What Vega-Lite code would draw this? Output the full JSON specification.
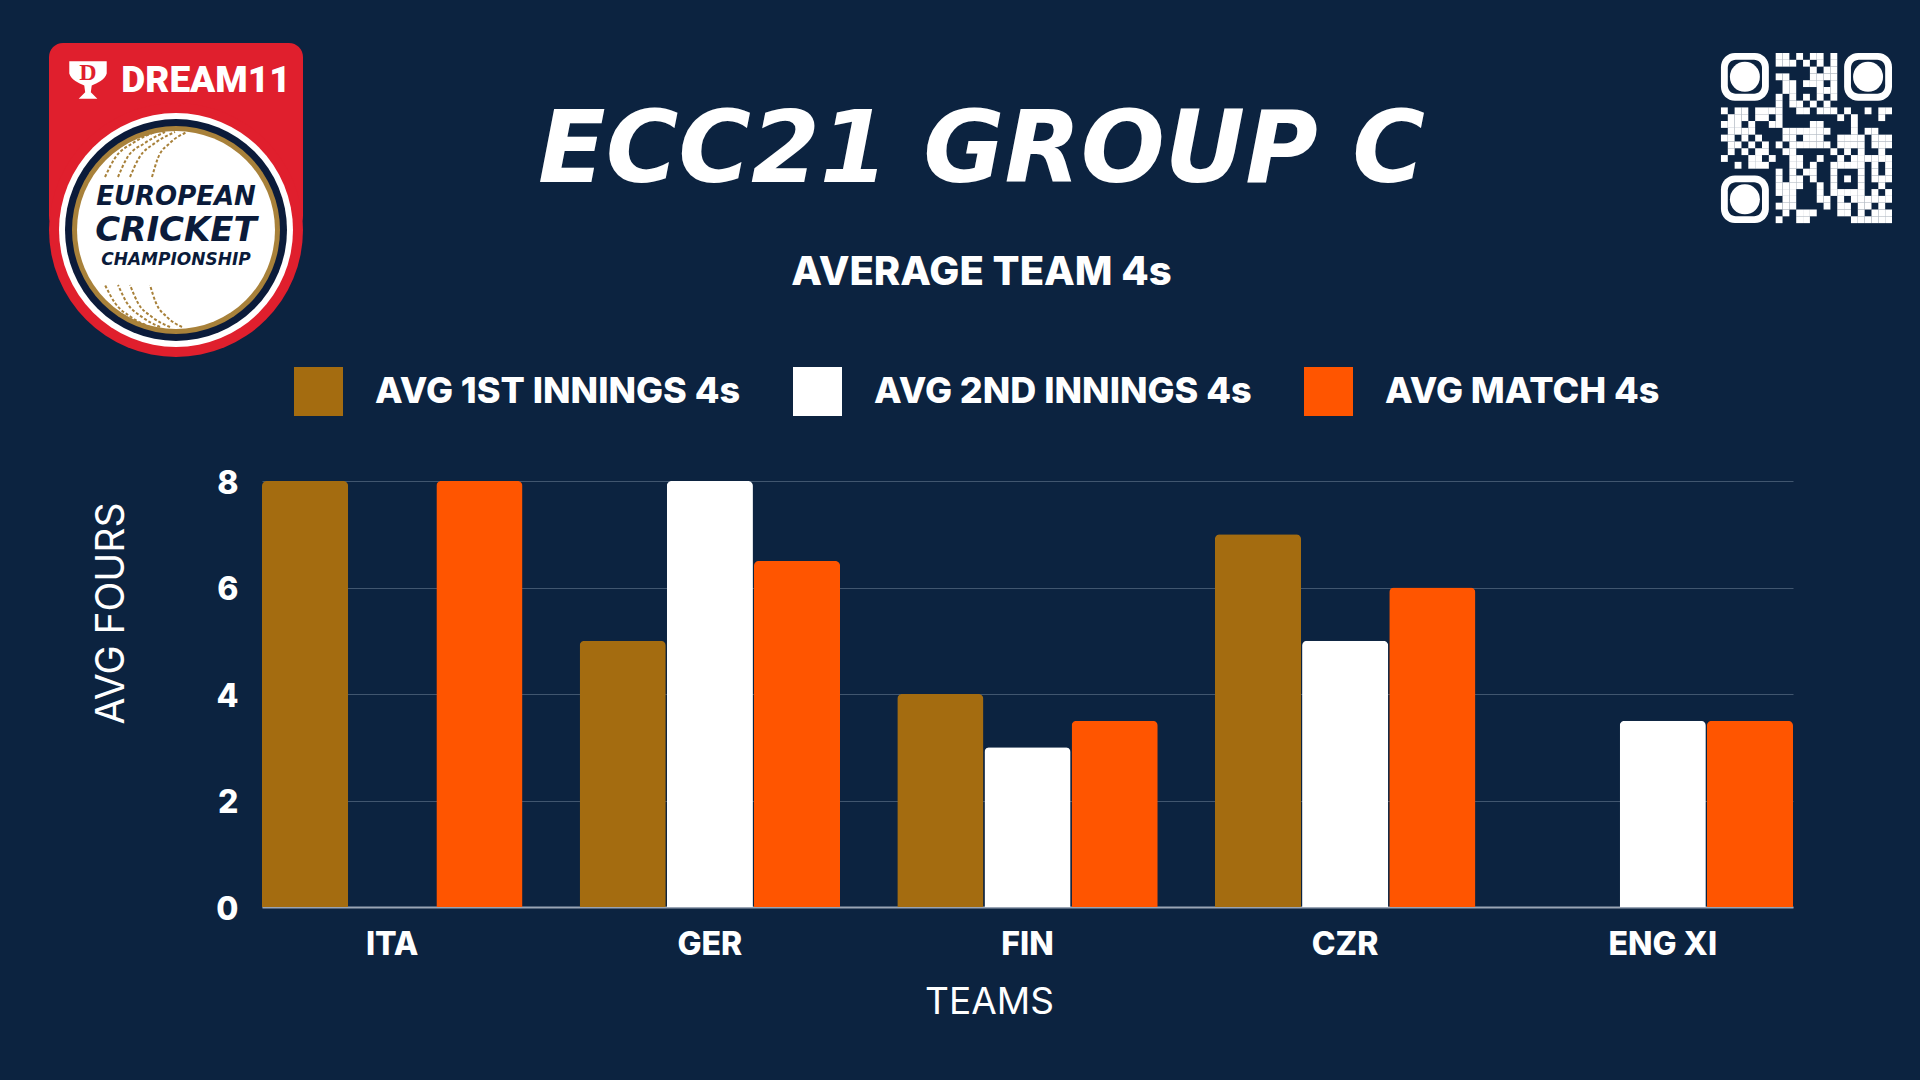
{
  "$schema": "https://vega.github.io/schema/vega-lite/v6.json",
  "background": "#0c2340",
  "padding": 0,
  "bounds": "flush",
  "align": "none",
  "spacing": 0,
  "columns": 3,
  "config": {"view": {"stroke": null}, "font": "Inter"},
  "concat": [
    {
      "width": 262,
      "height": 481,
      "encoding": {
        "x": {"field": "x", "type": "quantitative", "axis": null, "scale": {"domain": [0, 262], "nice": false, "zero": false}},
        "y": {"field": "y", "type": "quantitative", "axis": null, "scale": {"domain": [481, 0], "nice": false, "zero": false}}
      },
      "layer": [
        {"data": {"values": [{"x": 49, "x2": 303, "y": 43, "y2": 230}]}, "mark": {"type": "rect", "fill": "#e01f2d", "cornerRadius": 14}, "encoding": {"x2": {"field": "x2"}, "y2": {"field": "y2"}}},
        {"data": {"name": "ball", "values": [{"x": 176, "y": 230}]}, "mark": {"type": "point", "filled": true, "opacity": 1, "shape": "circle", "size": 64516, "color": "#e01f2d"}},
        {"data": {"name": "ball"}, "mark": {"type": "point", "filled": true, "opacity": 1, "shape": "circle", "size": 54756, "color": "#ffffff"}},
        {"data": {"name": "ball"}, "mark": {"type": "point", "filled": true, "opacity": 1, "shape": "circle", "size": 49284, "color": "#0b1b3a"}},
        {"data": {"name": "ball"}, "mark": {"type": "point", "filled": true, "opacity": 1, "shape": "circle", "size": 43264, "color": "#a8813a"}},
        {"data": {"name": "ball"}, "mark": {"type": "point", "filled": true, "opacity": 1, "shape": "circle", "size": 39204, "color": "#ffffff"}},
        {
          "data": {"values": [
            {"s": "t1", "x": 105, "y": 177}, {"s": "t1", "x": 115, "y": 158}, {"s": "t1", "x": 133, "y": 143}, {"s": "t1", "x": 155, "y": 132},
            {"s": "t2", "x": 118, "y": 177}, {"s": "t2", "x": 127, "y": 158}, {"s": "t2", "x": 145, "y": 143}, {"s": "t2", "x": 165, "y": 132},
            {"s": "t3", "x": 130, "y": 177}, {"s": "t3", "x": 139, "y": 158}, {"s": "t3", "x": 155, "y": 143}, {"s": "t3", "x": 175, "y": 132},
            {"s": "t4", "x": 152, "y": 177}, {"s": "t4", "x": 158, "y": 158}, {"s": "t4", "x": 170, "y": 143}, {"s": "t4", "x": 187, "y": 132},
            {"s": "b1", "x": 105, "y": 285}, {"s": "b1", "x": 115, "y": 303}, {"s": "b1", "x": 131, "y": 317}, {"s": "b1", "x": 150, "y": 327},
            {"s": "b2", "x": 118, "y": 285}, {"s": "b2", "x": 127, "y": 303}, {"s": "b2", "x": 142, "y": 317}, {"s": "b2", "x": 160, "y": 327},
            {"s": "b3", "x": 130, "y": 285}, {"s": "b3", "x": 138, "y": 303}, {"s": "b3", "x": 152, "y": 317}, {"s": "b3", "x": 170, "y": 327},
            {"s": "b4", "x": 150, "y": 285}, {"s": "b4", "x": 156, "y": 303}, {"s": "b4", "x": 167, "y": 317}, {"s": "b4", "x": 182, "y": 327}
          ]},
          "mark": {"type": "line", "interpolate": "monotone", "color": "#a8813a", "strokeWidth": 2, "strokeDash": [3, 2]},
          "encoding": {"detail": {"field": "s"}, "order": {"field": "y", "sort": "descending"}}
        },
        {"data": {"values": [{"x": 88, "y": 80}]}, "mark": {"type": "point", "filled": true, "opacity": 1, "size": 1400, "color": "#ffffff", "shape": "M-1,-1 L1,-1 L1,-0.35 C0.9,0 0.5,0.15 0.2,0.3 L0.15,0.65 L0.5,1 L-0.5,1 L-0.15,0.65 L-0.2,0.3 C-0.5,0.15 -0.9,0 -1,-0.35 Z"}},
        {"data": {"values": [{"x": 88, "y": 73, "t": "D"}]}, "mark": {"type": "text", "font": "Liberation Serif", "fontWeight": "bold", "fontSize": 24, "color": "#e01f2d"}, "encoding": {"text": {"field": "t"}}},
        {"data": {"values": [{"x": 206, "y": 81, "t": "DREAM11"}]}, "mark": {"type": "text", "font": "Roboto", "fontWeight": 900, "fontSize": 37, "color": "#ffffff"}, "encoding": {"text": {"field": "t"}}},
        {"data": {"values": [{"x": 176, "y": 197, "t": "EUROPEAN"}]}, "mark": {"type": "text", "font": "DejaVu Sans", "fontWeight": "bold", "fontStyle": "italic", "fontSize": 26, "color": "#0b1b3a"}, "encoding": {"text": {"field": "t"}}},
        {"data": {"values": [{"x": 176, "y": 231, "t": "CRICKET"}]}, "mark": {"type": "text", "font": "DejaVu Sans", "fontWeight": "bold", "fontStyle": "italic", "fontSize": 34, "color": "#0b1b3a"}, "encoding": {"text": {"field": "t"}}},
        {"data": {"values": [{"x": 176, "y": 260, "t": "CHAMPIONSHIP"}]}, "mark": {"type": "text", "font": "DejaVu Sans", "fontWeight": "bold", "fontStyle": "italic", "fontSize": 17, "color": "#0b1b3a"}, "encoding": {"text": {"field": "t"}}}
      ]
    },
    {
      "width": 1531,
      "height": 481,
      "title": {
        "text": "ECC21 GROUP C",
        "subtitle": "AVERAGE TEAM 4s",
        "anchor": "middle",
        "frame": "group",
        "offset": -294,
        "dx": -46,
        "color": "#ffffff",
        "font": "DejaVu Sans",
        "fontStyle": "italic",
        "fontWeight": "bold",
        "fontSize": 99,
        "subtitleColor": "#ffffff",
        "subtitleFont": "Inter",
        "subtitleFontWeight": 800,
        "subtitleFontSize": 40,
        "subtitlePadding": 50
      },
      "data": {"values": []},
      "mark": "point"
    },
    {
      "width": 127,
      "height": 481,
      "encoding": {
        "x": {"field": "c", "type": "quantitative", "axis": null, "scale": {"domain": [10.03, 28.59], "nice": false, "zero": false}},
        "y": {"field": "r", "type": "quantitative", "axis": null, "scale": {"domain": [62.4, -8.29], "nice": false, "zero": false}}
      },
      "layer": [
        {
          "data": {"values": [
            {"c": -0.5, "c2": 6.5, "r": -0.5, "r2": 6.5},
            {"c": 17.5, "c2": 24.5, "r": -0.5, "r2": 6.5},
            {"c": -0.5, "c2": 6.5, "r": 17.5, "r2": 24.5}
          ]},
          "mark": {"type": "rect", "fill": "#ffffff", "cornerRadius": 14},
          "encoding": {"x2": {"field": "c2"}, "y2": {"field": "r2"}}
        },
        {
          "data": {"values": [
            {"c": 0.5, "c2": 5.5, "r": 0.5, "r2": 5.5},
            {"c": 18.5, "c2": 23.5, "r": 0.5, "r2": 5.5},
            {"c": 0.5, "c2": 5.5, "r": 18.5, "r2": 23.5}
          ]},
          "mark": {"type": "rect", "fill": "#0c2340", "cornerRadius": 8},
          "encoding": {"x2": {"field": "c2"}, "y2": {"field": "r2"}}
        },
        {
          "data": {"values": [{"c": 3, "r": 3}, {"c": 21, "r": 3}, {"c": 3, "r": 21}]},
          "mark": {"type": "point", "filled": true, "opacity": 1, "shape": "circle", "size": 900, "color": "#ffffff"}
        },
        {
          "data": {"values": [
            {"c":8,"r":0},{"c":9,"r":0},{"c":11,"r":0},{"c":13,"r":0},{"c":14,"r":0},{"c":16,"r":0},
            {"c":8,"r":1},{"c":9,"r":1},{"c":10,"r":1},{"c":12,"r":1},{"c":14,"r":1},{"c":16,"r":1},
            {"c":13,"r":2},{"c":15,"r":2},{"c":16,"r":2},
            {"c":8,"r":3},{"c":9,"r":3},{"c":13,"r":3},{"c":14,"r":3},{"c":15,"r":3},{"c":16,"r":3},
            {"c":9,"r":4},{"c":10,"r":4},{"c":12,"r":4},{"c":13,"r":4},{"c":14,"r":4},{"c":16,"r":4},
            {"c":9,"r":5},{"c":10,"r":5},{"c":14,"r":5},{"c":15,"r":5},{"c":16,"r":5},
            {"c":8,"r":6},{"c":10,"r":6},{"c":12,"r":6},{"c":14,"r":6},{"c":16,"r":6},
            {"c":8,"r":7},{"c":10,"r":7},{"c":11,"r":7},{"c":13,"r":7},{"c":15,"r":7},
            {"c":0,"r":8},{"c":2,"r":8},{"c":3,"r":8},{"c":5,"r":8},{"c":6,"r":8},{"c":7,"r":8},{"c":8,"r":8},{"c":11,"r":8},{"c":12,"r":8},{"c":14,"r":8},{"c":15,"r":8},{"c":16,"r":8},{"c":18,"r":8},{"c":21,"r":8},{"c":23,"r":8},{"c":24,"r":8},
            {"c":1,"r":9},{"c":2,"r":9},{"c":3,"r":9},{"c":5,"r":9},{"c":6,"r":9},{"c":8,"r":9},{"c":17,"r":9},{"c":19,"r":9},{"c":23,"r":9},
            {"c":0,"r":10},{"c":1,"r":10},{"c":2,"r":10},{"c":4,"r":10},{"c":7,"r":10},{"c":8,"r":10},{"c":13,"r":10},{"c":14,"r":10},{"c":19,"r":10},
            {"c":1,"r":11},{"c":2,"r":11},{"c":3,"r":11},{"c":4,"r":11},{"c":9,"r":11},{"c":10,"r":11},{"c":11,"r":11},{"c":12,"r":11},{"c":13,"r":11},{"c":14,"r":11},{"c":15,"r":11},{"c":19,"r":11},{"c":21,"r":11},{"c":22,"r":11},
            {"c":0,"r":12},{"c":1,"r":12},{"c":3,"r":12},{"c":5,"r":12},{"c":9,"r":12},{"c":10,"r":12},{"c":12,"r":12},{"c":13,"r":12},{"c":14,"r":12},{"c":17,"r":12},{"c":18,"r":12},{"c":19,"r":12},{"c":20,"r":12},{"c":22,"r":12},{"c":23,"r":12},{"c":24,"r":12},
            {"c":1,"r":13},{"c":2,"r":13},{"c":4,"r":13},{"c":6,"r":13},{"c":8,"r":13},{"c":10,"r":13},{"c":11,"r":13},{"c":12,"r":13},{"c":13,"r":13},{"c":14,"r":13},{"c":15,"r":13},{"c":17,"r":13},{"c":18,"r":13},{"c":19,"r":13},{"c":20,"r":13},{"c":22,"r":13},{"c":23,"r":13},{"c":24,"r":13},
            {"c":1,"r":14},{"c":3,"r":14},{"c":5,"r":14},{"c":6,"r":14},{"c":9,"r":14},{"c":10,"r":14},{"c":16,"r":14},{"c":18,"r":14},{"c":20,"r":14},{"c":23,"r":14},
            {"c":0,"r":15},{"c":4,"r":15},{"c":5,"r":15},{"c":7,"r":15},{"c":10,"r":15},{"c":11,"r":15},{"c":14,"r":15},{"c":17,"r":15},{"c":19,"r":15},{"c":20,"r":15},{"c":21,"r":15},{"c":22,"r":15},{"c":23,"r":15},{"c":24,"r":15},
            {"c":2,"r":16},{"c":4,"r":16},{"c":5,"r":16},{"c":6,"r":16},{"c":10,"r":16},{"c":11,"r":16},{"c":13,"r":16},{"c":16,"r":16},{"c":17,"r":16},{"c":18,"r":16},{"c":19,"r":16},{"c":20,"r":16},{"c":22,"r":16},{"c":24,"r":16},
            {"c":8,"r":17},{"c":10,"r":17},{"c":12,"r":17},{"c":13,"r":17},{"c":16,"r":17},{"c":20,"r":17},{"c":22,"r":17},{"c":24,"r":17},
            {"c":8,"r":18},{"c":10,"r":18},{"c":11,"r":18},{"c":13,"r":18},{"c":16,"r":18},{"c":18,"r":18},{"c":20,"r":18},{"c":22,"r":18},{"c":23,"r":18},{"c":24,"r":18},
            {"c":8,"r":19},{"c":9,"r":19},{"c":10,"r":19},{"c":11,"r":19},{"c":14,"r":19},{"c":16,"r":19},{"c":20,"r":19},{"c":23,"r":19},
            {"c":8,"r":20},{"c":9,"r":20},{"c":10,"r":20},{"c":14,"r":20},{"c":16,"r":20},{"c":17,"r":20},{"c":18,"r":20},{"c":19,"r":20},{"c":20,"r":20},{"c":22,"r":20},{"c":24,"r":20},
            {"c":9,"r":21},{"c":10,"r":21},{"c":14,"r":21},{"c":15,"r":21},{"c":17,"r":21},{"c":19,"r":21},{"c":20,"r":21},{"c":21,"r":21},{"c":22,"r":21},{"c":23,"r":21},{"c":24,"r":21},
            {"c":8,"r":22},{"c":9,"r":22},{"c":10,"r":22},{"c":15,"r":22},{"c":17,"r":22},{"c":18,"r":22},{"c":20,"r":22},{"c":21,"r":22},{"c":23,"r":22},
            {"c":9,"r":23},{"c":11,"r":23},{"c":12,"r":23},{"c":13,"r":23},{"c":17,"r":23},{"c":18,"r":23},{"c":20,"r":23},{"c":22,"r":23},{"c":23,"r":23},{"c":24,"r":23},
            {"c":8,"r":24},{"c":11,"r":24},{"c":12,"r":24},{"c":19,"r":24},{"c":20,"r":24},{"c":21,"r":24},{"c":22,"r":24},{"c":23,"r":24},{"c":24,"r":24}
          ]},
          "mark": {"type": "point", "filled": true, "opacity": 1, "shape": "square", "size": 47, "color": "#ffffff"}
        }
      ]
    },
    {"width": 262, "height": 426, "data": {"values": []}, "mark": "point"},
    {
      "width": 1531,
      "height": 426,
      "data": {"values": [
        {"team": "ITA", "series": "AVG 1ST INNINGS 4s", "fours": 8},
        {"team": "ITA", "series": "AVG MATCH 4s", "fours": 8},
        {"team": "GER", "series": "AVG 1ST INNINGS 4s", "fours": 5},
        {"team": "GER", "series": "AVG 2ND INNINGS 4s", "fours": 8},
        {"team": "GER", "series": "AVG MATCH 4s", "fours": 6.5},
        {"team": "FIN", "series": "AVG 1ST INNINGS 4s", "fours": 4},
        {"team": "FIN", "series": "AVG 2ND INNINGS 4s", "fours": 3},
        {"team": "FIN", "series": "AVG MATCH 4s", "fours": 3.5},
        {"team": "CZR", "series": "AVG 1ST INNINGS 4s", "fours": 7},
        {"team": "CZR", "series": "AVG 2ND INNINGS 4s", "fours": 5},
        {"team": "CZR", "series": "AVG MATCH 4s", "fours": 6},
        {"team": "ENG XI", "series": "AVG 2ND INNINGS 4s", "fours": 3.5},
        {"team": "ENG XI", "series": "AVG MATCH 4s", "fours": 3.5}
      ]},
      "mark": {"type": "bar", "cornerRadiusTopLeft": 5, "cornerRadiusTopRight": 5},
      "encoding": {
        "x": {
          "field": "team",
          "type": "nominal",
          "sort": ["ITA", "GER", "FIN", "CZR", "ENG XI"],
          "scale": {"paddingInner": 0.18, "paddingOuter": 0},
          "axis": {
            "title": "TEAMS",
            "titleColor": "#ffffff",
            "titleFontSize": 37,
            "titleFontWeight": 400,
            "titleX": 727,
            "titleY": 95,
            "titleBaseline": "middle",
            "labelAngle": 0,
            "labelColor": "#ffffff",
            "labelFontSize": 32,
            "labelFontWeight": 800,
            "labelPadding": 22,
            "ticks": false,
            "domainColor": "#9aa5b5",
            "domainWidth": 2
          }
        },
        "xOffset": {
          "field": "series",
          "type": "nominal",
          "sort": ["AVG 1ST INNINGS 4s", "AVG 2ND INNINGS 4s", "AVG MATCH 4s"],
          "scale": {"paddingInner": 0.012}
        },
        "y": {
          "field": "fours",
          "type": "quantitative",
          "scale": {"domain": [0, 8], "nice": false},
          "axis": {
            "title": "AVG FOURS",
            "values": [0, 2, 4, 6, 8],
            "titleColor": "#ffffff",
            "titleFontSize": 39,
            "titleFontWeight": 400,
            "titleX": -151,
            "titleY": 132,
            "titleBaseline": "middle",
            "labelColor": "#ffffff",
            "labelFontSize": 32,
            "labelFontWeight": 800,
            "labelPadding": 24,
            "labelOffset": 2,
            "ticks": false,
            "domain": false,
            "grid": true,
            "gridColor": "#41566f",
            "gridWidth": 1
          }
        },
        "color": {
          "field": "series",
          "type": "nominal",
          "sort": ["AVG 1ST INNINGS 4s", "AVG 2ND INNINGS 4s", "AVG MATCH 4s"],
          "scale": {
            "domain": ["AVG 1ST INNINGS 4s", "AVG 2ND INNINGS 4s", "AVG MATCH 4s"],
            "range": ["#a46c10", "#ffffff", "#ff5500"]
          },
          "legend": {
            "title": null,
            "orient": "none",
            "legendX": 294,
            "legendY": 367,
            "direction": "horizontal",
            "columns": 3,
            "columnPadding": 52,
            "symbolType": "square",
            "symbolSize": 2401,
            "symbolStrokeWidth": 0,
            "symbolOpacity": 1,
            "labelColor": "#ffffff",
            "labelFont": "Inter",
            "labelFontSize": 36,
            "labelFontWeight": 800,
            "labelOffset": 32,
            "labelLimit": 600
          }
        }
      }
    },
    {"width": 127, "height": 426, "data": {"values": []}, "mark": "point"},
    {"width": 262, "height": 173, "data": {"values": []}, "mark": "point"}
  ]
}
